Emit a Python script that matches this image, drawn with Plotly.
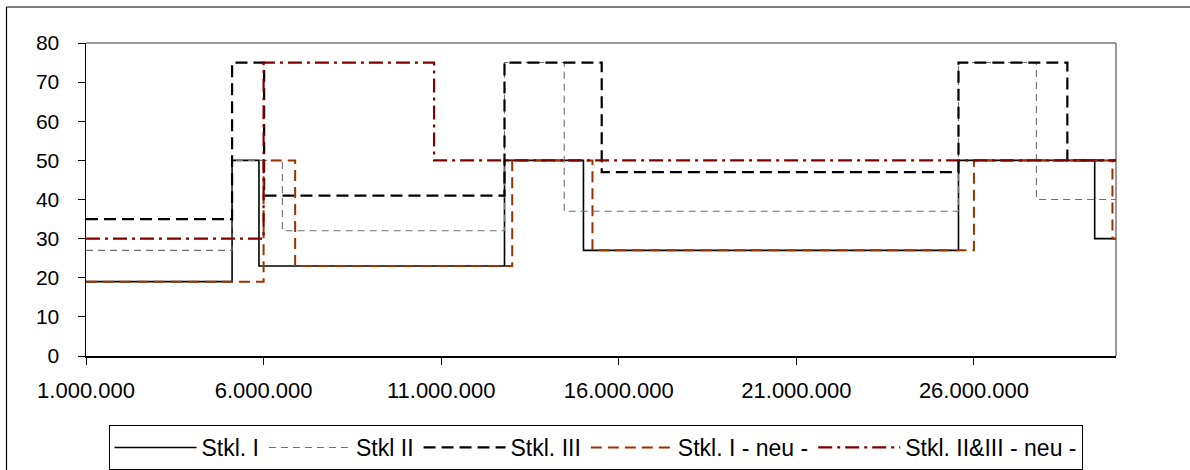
import plotly.graph_objects as go

# ---- data ----
x_range = [1_000_000, 30_000_000]
y_ticks = [0, 10, 20, 30, 40, 50, 60, 70, 80]
x_tick_vals = [1_000_000, 6_000_000, 11_000_000, 16_000_000, 21_000_000, 26_000_000]
x_tick_text = ["1.000.000", "6.000.000", "11.000.000", "16.000.000", "21.000.000", "26.000.000"]

series_names = ["Stkl. I", "Stkl II", "Stkl. III", "Stkl. I - neu -", "Stkl. II&III - neu -"]

stkl1_x = [1_000_000, 5_113_000, 5_870_000, 12_783_000, 15_006_000, 25_565_000, 29_400_000, 30_000_000]
stkl1_y = [19, 50, 23, 50, 27, 50, 30, 30]

stkl2_x = [1_000_000, 5_113_000, 6_530_000, 12_783_000, 14_465_000, 25_565_000, 27_760_000, 30_000_000]
stkl2_y = [27, 50, 32, 75, 37, 75, 40, 40]

stkl3_x = [1_000_000, 5_113_000, 6_015_000, 12_783_000, 15_520_000, 25_565_000, 28_630_000, 30_000_000]
stkl3_y = [35, 75, 41, 75, 47, 75, 50, 50]

stkl1_neu_x = [1_000_000, 6_000_000, 6_889_000, 13_000_000, 15_260_000, 26_000_000, 29_900_000, 30_000_000]
stkl1_neu_y = [19, 50, 23, 50, 27, 50, 30, 30]

stkl23_neu_x = [1_000_000, 6_000_000, 10_800_000, 30_000_000]
stkl23_neu_y = [30, 75, 50, 50]

# ---- styles ----
styles = [
    dict(color="#000000", width=1.6, dash="solid"),
    dict(color="#707070", width=1.1, dash="7px,5px"),
    dict(color="#000000", width=2.2, dash="12px,6px"),
    dict(color="#993300", width=2.0, dash="11px,6px"),
    dict(color="#800000", width=2.2, dash="14px,5px,3px,5px"),
]
xs = [stkl1_x, stkl2_x, stkl3_x, stkl1_neu_x, stkl23_neu_x]
ys = [stkl1_y, stkl2_y, stkl3_y, stkl1_neu_y, stkl23_neu_y]

FONT = "Arial, Liberation Sans, sans-serif"

fig = go.Figure()
for name, x, y, st in zip(series_names, xs, ys, styles):
    fig.add_trace(go.Scatter(
        x=x, y=y, name=name, mode="lines", line_shape="hv",
        line=st, hoverinfo="skip",
    ))

W, H = 1190, 470
L, R, T, B = 86, 74, 43, 114
pw, ph = W - L - R, H - T - B

def px_x(p):
    return (p - L) / pw

def px_y(p):
    return (T + ph - p) / ph

fig.update_layout(
    width=W, height=H,
    margin=dict(l=L, r=R, t=T, b=B, pad=0, autoexpand=False),
    paper_bgcolor="white", plot_bgcolor="white",
    font=dict(family=FONT, size=21, color="black"),
    showlegend=True,
    legend=dict(
        orientation="h",
        x=px_x(595.5), xanchor="center",
        y=px_y(425), yanchor="top",
        bordercolor="#000000", borderwidth=1,
        font=dict(family=FONT, size=23, color="black"),
        itemwidth=82,
        bgcolor="white",
    ),
    xaxis=dict(
        range=x_range, showgrid=False, zeroline=False,
        showline=True, linecolor="black", linewidth=1.5,
        tickmode="array", tickvals=x_tick_vals, ticktext=x_tick_text,
        ticks="outside", ticklen=7, tickcolor="black", tickwidth=1,
        ticklabelstandoff=7,
        tickfont=dict(family=FONT, size=22, color="black"),
    ),
    yaxis=dict(
        range=[0, 80], showgrid=False, zeroline=False,
        showline=True, linecolor="black", linewidth=1.5,
        tickmode="array", tickvals=y_ticks,
        ticks="outside", ticklen=7, tickcolor="black", tickwidth=1,
        ticklabelstandoff=14,
        tickfont=dict(family=FONT, size=21, color="black"),
    ),
    shapes=[
        # plot-area frame (top and right edges, grey)
        dict(type="line", xref="paper", yref="paper", x0=0, x1=1, y0=1, y1=1,
             line=dict(color="#999999", width=2), layer="below"),
        dict(type="line", xref="paper", yref="paper", x0=1, x1=1, y0=0, y1=1,
             line=dict(color="#999999", width=2), layer="below"),
        # outer chart-area border (left and top edges visible)
        dict(type="line", xref="paper", yref="paper",
             x0=px_x(6.5), x1=px_x(6.5), y0=px_y(470), y1=px_y(7),
             line=dict(color="black", width=1.2), layer="below"),
        dict(type="line", xref="paper", yref="paper",
             x0=px_x(6.5), x1=px_x(1190), y0=px_y(7), y1=px_y(7),
             line=dict(color="black", width=1.2), layer="below"),
    ],
)

fig.write_html(
    "out.html",
    config={"displayModeBar": False, "staticPlot": True},
    post_script="document.body.style.margin='0';",
)
